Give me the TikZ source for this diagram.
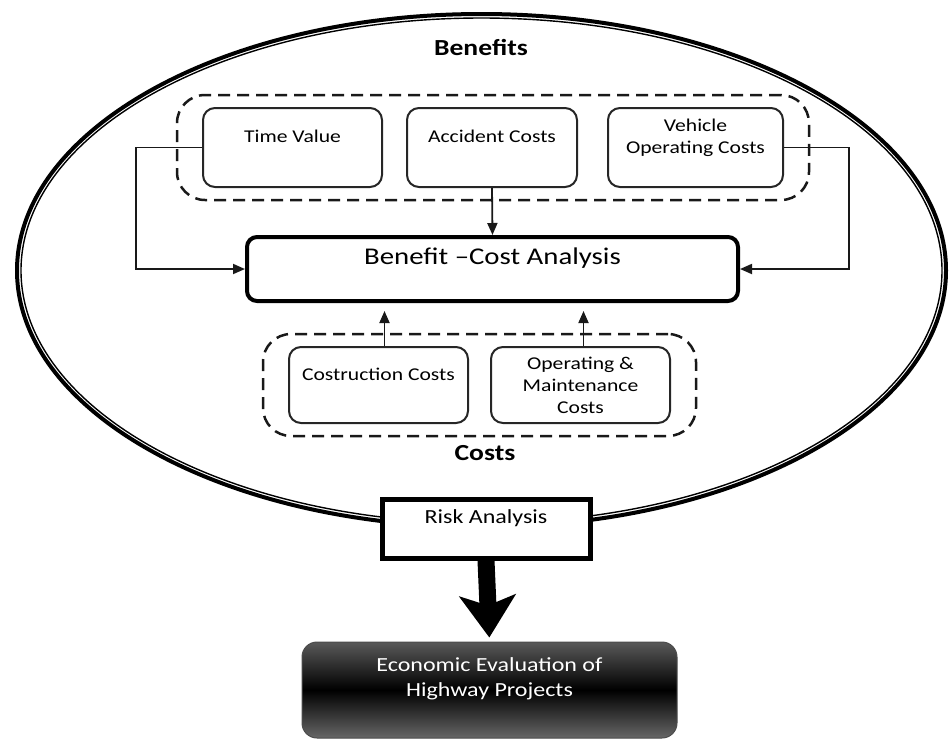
\documentclass[tikz,border=0pt]{standalone}
\usepackage{fontspec}
\setmainfont{Carlito}[FakeStretch=1.2]
\usepackage{tikz}
\usetikzlibrary{arrows.meta,fit,shadings}
\tikzset{%
    costbox/.style={%
        draw=black!85, line width=2pt, rounded corners=12pt,
        inner sep=0pt, align=center, font=\fontsize{18}{22}\selectfont
    },
    dashgroup/.style={%
        draw=black!90, line width=2.5pt, dash pattern=on 12pt off 7pt,
        rounded corners=28pt, inner xsep=25pt, inner ysep=12pt
    },
    arr/.style={%
        draw=black!90, line width=1.8pt, -{Triangle[length=12pt,width=10pt]}
    },
    title/.style={%
        font=\fontsize{23}{26}\selectfont\bfseries
    }
}

\begin{document}
\begin{tikzpicture}[x=1pt,y=-1pt]
    \useasboundingbox (0,0) rectangle (951,740);
    % ring
    \draw[line width=4pt] (481.5,270.5) ellipse [x radius=464.5pt, y radius=256.5pt];
    \draw[line width=1.4pt] (481.5,270.5) ellipse [x radius=460.5pt, y radius=252.5pt];
    \node[title] (benefits) at (481,47) {Benefits};
    \node[title] (costs) at (485,453) {Costs};

    \node[costbox, minimum width=179pt, minimum height=79pt] (time) at (292.5,147.5) {Time Value\\\mbox{}};
    \node[costbox, minimum width=170pt, minimum height=79pt] (accident) at (492,147.5) {Accident Costs\\\mbox{}};
    \node[costbox, minimum width=175pt, minimum height=79pt] (vehicle) at (695.5,147.5) {Vehicle\\Operating Costs\\\mbox{}};
    \node[dashgroup, fit=(time)(accident)(vehicle)] (bengroup) {};

    \node[draw, line width=4pt, rounded corners=10pt, inner sep=0pt, align=center,
        minimum width=491pt, minimum height=64pt, font=\fontsize{24}{26}\selectfont] (bca) at (492.5,269) {Benefit –Cost Analysis\\\mbox{}};

    \node[costbox, minimum width=179pt, minimum height=76pt] (construction) at (378.5,385) {Costruction Costs\\\mbox{}};
    \node[costbox, minimum width=179pt, minimum height=76pt] (operating) at (580.5,385) {Operating \&\\Maintenance\\Costs};
    \node[dashgroup, fit=(construction)(operating)] (costgroup) {};

    \draw[arr] (accident.south) -- (bca.north);
    \draw[arr] (time.west) -- ++(-66,0) |- (bca.west);
    \draw[arr] (vehicle.east) -- ++(65,0) |- (bca.east);
    \draw[arr, shorten >=8pt] ([xshift=6pt]construction.north) -- ([xshift=6pt]construction.north |- bca.south);
    \draw[arr, shorten >=8pt] ([xshift=3pt]operating.north) -- ([xshift=3pt]operating.north |- bca.south);

    \node[draw, line width=5pt, fill=white, inner sep=0pt, align=center,
        minimum width=208pt, minimum height=59pt, font=\fontsize{20}{24}\selectfont] (risk) at (486,528.5) {Risk Analysis\\\mbox{}};

    \node[draw=black!70, line width=1pt, rounded corners=15pt, top color=black!65, bottom color=black!60, middle color=black,
        text=white, inner sep=0pt, align=center, minimum width=375pt, minimum height=96pt,
        font=\fontsize{20}{25}\selectfont] (econ) at (489.5,690) {Economic Evaluation of\\Highway Projects\\\mbox{}};

    \draw[line width=17pt, shorten >=4pt, -{Stealth[length=42pt,width=56pt,inset=10pt]}] (risk.south) -- (econ.north);
\end{tikzpicture}
\end{document}
